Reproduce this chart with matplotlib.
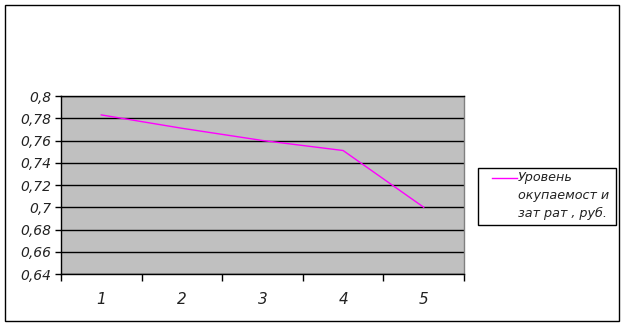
import matplotlib
matplotlib.use("Agg")
import matplotlib.pyplot as plt
from matplotlib.ticker import FixedLocator, FuncFormatter
from matplotlib.patches import Rectangle
from matplotlib.lines import Line2D

categories = ["1", "2", "3", "4", "5"]
values = [0.783, 0.771, 0.760, 0.751, 0.700]
series_name = "Уровень\nокупаемост и\nзат рат , руб."

W, H = 625, 326
plt.rcParams['font.family'] = ['DejaVu Sans']
fig = plt.figure(figsize=(W / 100, H / 100), dpi=100)


def fx(px):
    return px / W


def fy(py):
    return 1 - py / H


# outer chart frame
fig.patches.append(Rectangle((fx(5), fy(321)), fx(614), 316 / H,
                             transform=fig.transFigure, fill=False,
                             edgecolor="black", linewidth=1))

ax = fig.add_axes([fx(61), fy(274), fx(403), 178 / H])
ax.set_facecolor("#C0C0C0")

x = list(range(len(categories)))
line, = ax.plot(x, values, color="#FF00FF", linewidth=1, label=series_name)

ax.set_xlim(-0.5, len(categories) - 0.5)
ax.set_ylim(0.64, 0.8)

yt = [0.64 + 0.02 * i for i in range(9)]
ax.yaxis.set_major_locator(FixedLocator(yt))
ax.yaxis.set_major_formatter(FuncFormatter(lambda v, p: f"{round(v, 2):g}".replace(".", ",")))
ax.grid(axis="y", color="black", linewidth=1)
ax.set_axisbelow(True)

ax.xaxis.set_major_locator(FixedLocator([i - 0.5 for i in range(len(categories) + 1)]))
ax.xaxis.set_major_formatter(FuncFormatter(lambda v, p: ""))
ax.xaxis.set_minor_locator(FixedLocator(x))
ax.set_xticklabels(categories, minor=True)
ax.tick_params(axis="x", which="major", length=5, width=1, color="black", direction="out")
ax.tick_params(axis="x", which="minor", length=0, pad=13, labelsize=11, labelcolor="#222222")
ax.tick_params(axis="y", length=4, width=1, color="black", labelsize=10, pad=3, labelcolor="#222222")
for lab in ax.get_xticklabels(minor=True) + ax.get_yticklabels():
    lab.set_fontstyle("oblique")

ax.spines["right"].set_color("#808080")
for s in ["left", "bottom", "top"]:
    ax.spines[s].set_color("black")
for s in ax.spines.values():
    s.set_linewidth(1)

# legend box, key aligned with first text line
fig.patches.append(Rectangle((fx(478), fy(225)), fx(138), 57 / H,
                             transform=fig.transFigure, fill=False,
                             edgecolor="black", linewidth=1))
fig.lines.append(Line2D([fx(492), fx(517)], [fy(178), fy(178)],
                        transform=fig.transFigure, color="#FF00FF", linewidth=1))
fig.text(fx(518), fy(171), series_name, ha="left", va="top",
         fontsize=9.2, fontstyle="oblique", linespacing=1.5, color="#222222")

fig.savefig("out.png", dpi=100, facecolor="white")
